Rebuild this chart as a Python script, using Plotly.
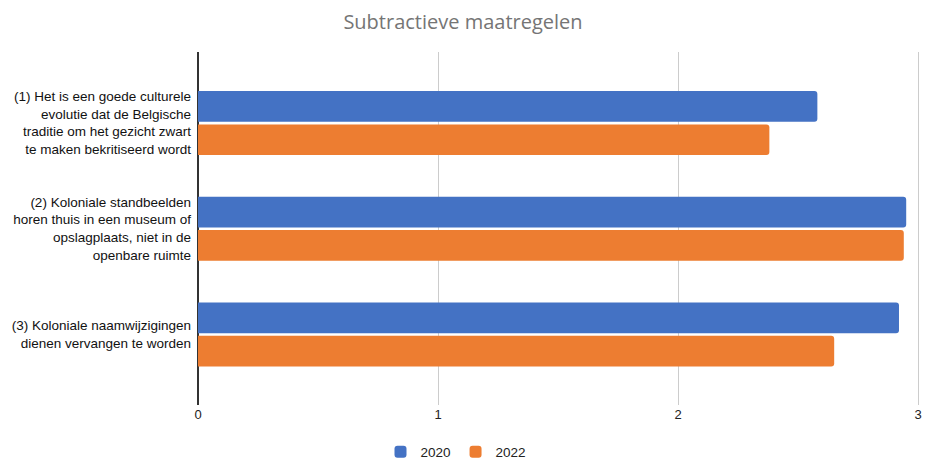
import plotly.graph_objects as go

categories = [
    "(1) Het is een goede culturele<br>evolutie dat de Belgische<br>traditie om het gezicht zwart<br>te maken bekritiseerd wordt",
    "(2) Koloniale standbeelden<br>horen thuis in een museum of<br>opslagplaats, niet in de<br>openbare ruimte",
    "(3) Koloniale naamwijzigingen<br>dienen vervangen te worden",
]
values_2020 = [2.58, 2.95, 2.92]
values_2022 = [2.38, 2.94, 2.65]
x_ticks = [0, 1, 2, 3]

W, H = 926, 461
X_MAX = 3.02

fig = go.Figure()
fig.add_trace(go.Bar(
    y=categories, x=values_2020, name="2020", orientation="h",
    marker=dict(color="#4472C4", line=dict(width=0)),
    width=0.29, offset=-0.30,
))
fig.add_trace(go.Bar(
    y=categories, x=values_2022, name="2022", orientation="h",
    marker=dict(color="#ED7D31", line=dict(width=0)),
    width=0.29, offset=0.015,
))

fig.update_layout(
    width=W, height=H,
    margin=dict(l=198, r=3.2, t=52, b=56, autoexpand=False),
    paper_bgcolor="white", plot_bgcolor="white",
    font=dict(family="Liberation Sans, Arial, sans-serif", size=12, color="#222222"),
    title=dict(text="Subtractieve maatregelen", x=463 / W, xanchor="center", xref="container",
               y=1 - 22 / H, yanchor="middle", yref="container",
               font=dict(size=20, color="#757575", family="Open Sans, sans-serif")),
    barcornerradius=3,
    showlegend=True,
    legend=dict(orientation="h", x=456 / W, xanchor="center", xref="container",
                y=1 - 452 / H, yanchor="middle", yref="container",
                font=dict(size=13.5, color="#222222"), itemwidth=30),
    xaxis=dict(range=[0, X_MAX], tickvals=x_ticks, ticktext=[str(t) for t in x_ticks],
               showgrid=True, gridcolor="#cccccc", gridwidth=1,
               zeroline=True, zerolinecolor="#333333", zerolinewidth=1.5,
               showline=False, ticks="", fixedrange=True, automargin=False,
               ticklabeloverflow="allow",
               tickfont=dict(size=13, color="#222222")),
    yaxis=dict(range=[2.67, -0.67], showgrid=False, zeroline=False,
               showline=False, ticks="", ticklabelstandoff=6, automargin=False,
               tickfont=dict(size=13.5, color="#111111")),
)

fig.write_html(
    "out.html",
    config={"displayModeBar": False},
    post_script="document.body.style.margin='0';document.documentElement.style.overflow='hidden';",
)
